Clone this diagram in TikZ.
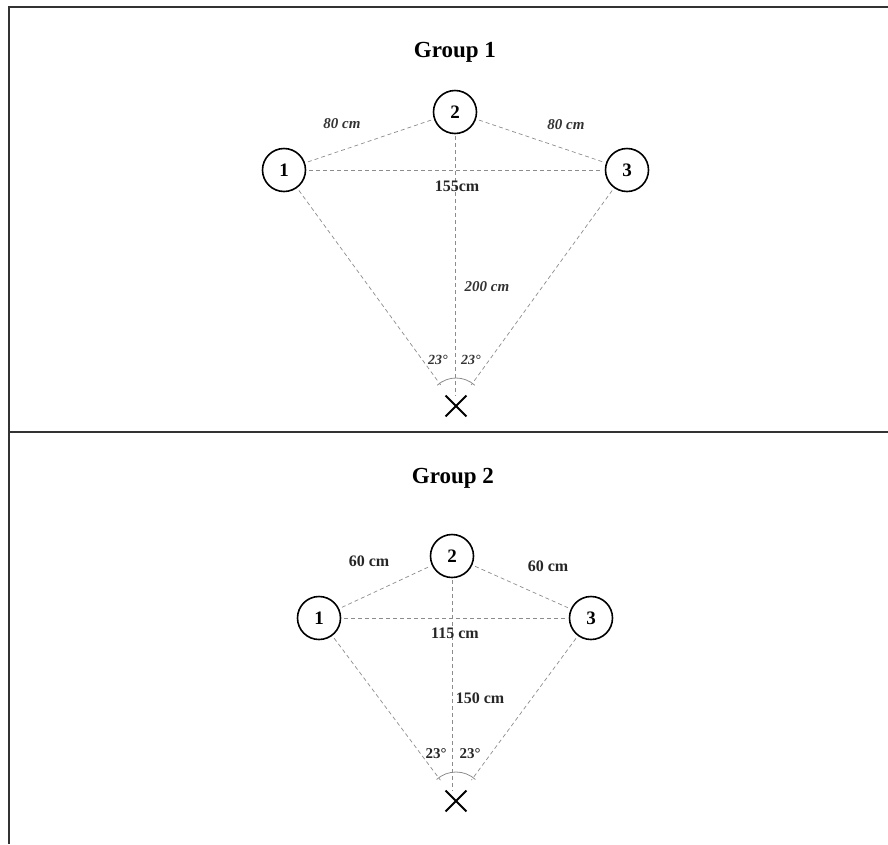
\documentclass[tikz,border=0pt]{standalone}
\usepackage{fontspec}
\setmainfont{Liberation Serif}
\usetikzlibrary{shapes.misc}
\begin{document}
\begin{tikzpicture}[x=1pt,y=-1pt,
  stn/.style={circle,draw=black,line width=1.6pt,minimum size=43pt,inner sep=0pt,font=\fontsize{19}{19}\selectfont\bfseries},
  dsh/.style={draw=black!45,line width=0.7pt,dash pattern=on 4pt off 3pt},
  arcl/.style={draw=black!45,line width=0.8pt},
  lbl/.style={font=\fontsize{16}{16}\selectfont\bfseries,text=black!85},
  ilbl/.style={font=\fontsize{15}{15}\selectfont\bfseries\itshape,text=black!80},
  ang/.style={font=\fontsize{14}{14}\selectfont\bfseries\itshape,text=black!80},
  angb/.style={font=\fontsize{15}{15}\selectfont\bfseries,text=black!85},
  ttl/.style={font=\fontsize{23}{23}\selectfont\bfseries},
  frame/.style={line width=2pt,draw=black!80},
  xmark/.style={cross out,draw=black,line width=1.8pt,minimum size=19pt,inner sep=0pt}]
\useasboundingbox (0,0) rectangle (888,844);
% table frame
\draw[frame] (888,7) -- (8.5,7) -- (8.5,844);
\draw[frame] (8.5,432) -- (888,432);

% ---------- Group 1 ----------
\node[ttl] (t1) at (455,52) {Group 1};
\node[stn] (a2) at (455,112) {2};
\node[stn] (a1) at (284,170) {1};
\node[stn] (a3) at (627,170) {3};
\node[xmark] (x1) at (456,406) {};
\draw[dsh,shorten <=3pt,shorten >=3pt] (a1) -- (a2);
\draw[dsh,shorten <=3pt,shorten >=3pt] (a2) -- (a3);
\draw[dsh,shorten <=3pt,shorten >=3pt] (a1) -- (a3);
\draw[dsh,shorten <=2pt] (a2) -- (a2 |- x1.north);
\draw[dsh,shorten <=3pt,shorten >=26pt] (a1) -- (x1.center);
\draw[dsh,shorten <=3pt,shorten >=26pt] (a3) -- (x1.center);
\draw[arcl] ([shift={(48:28pt)}]x1.center) arc[start angle=48,end angle=132,radius=28pt];
\node[ilbl] (l12) at (342,124) {80 cm};
\node[ilbl] (l23) at (566,125) {80 cm};
\node[lbl] (l13) at (457,186) {155cm};
\node[ilbl] (l2x) at (487,287) {200 cm};
\node[ang] (g1a) at (438,360) {23°};
\node[ang] (g1b) at (471,360) {23°};

% ---------- Group 2 ----------
\node[ttl] (t2) at (453,478) {Group 2};
\node[stn] (b2) at (452,556) {2};
\node[stn] (b1) at (319,618) {1};
\node[stn] (b3) at (591,618) {3};
\node[xmark] (x2) at (456,801) {};
\draw[dsh,shorten <=3pt,shorten >=3pt] (b1) -- (b2);
\draw[dsh,shorten <=3pt,shorten >=3pt] (b2) -- (b3);
\draw[dsh,shorten <=3pt,shorten >=3pt] (b1) -- (b3);
\draw[dsh,shorten <=2pt] (b2) -- (b2 |- x2.north);
\draw[dsh,shorten <=3pt,shorten >=26pt] (b1) -- (x2.center);
\draw[dsh,shorten <=3pt,shorten >=26pt] (b3) -- (x2.center);
\draw[arcl] ([shift={(48:29pt)}]x2.center) arc[start angle=48,end angle=132,radius=29pt];
\node[lbl] (m12) at (369,561) {60 cm};
\node[lbl] (m23) at (548,566) {60 cm};
\node[lbl] (m13) at (455,633) {115 cm};
\node[lbl] (m2x) at (480,698) {150 cm};
\node[angb] (g2a) at (436,754) {23°};
\node[angb] (g2b) at (470,754) {23°};
\end{tikzpicture}
\end{document}
